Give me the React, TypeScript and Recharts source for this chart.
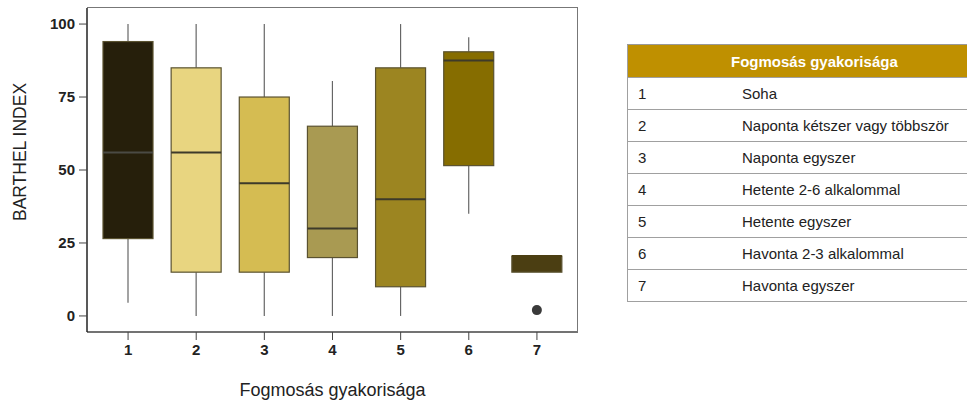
import { ComposedChart, Bar, XAxis, YAxis, Label } from 'recharts'

const categories = ['1', '2', '3', '4', '5', '6', '7']
const whiskerLow = [4.5, 0, 0, 0, 0, 35, 15]
const q1 = [26.5, 15, 15, 20, 10, 51.5, 15]
const median = [56, 56, 45.5, 30, 40, 87.5, 20.5]
const q3 = [94, 85, 75, 65, 85, 90.5, 20.5]
const whiskerHigh = [100, 100, 100, 80.5, 100, 95.5, 20.5]
const outliers: number[][] = [[], [], [], [], [], [], [2]]
const yTicks = [0, 25, 50, 75, 100]

const boxColors = ['#261f0b', '#e8d580', '#d5bc52', '#a99a52', '#9c8521', '#866d00', '#4b3e12']
const medianColors = ['#4a4a44', '#3d3a2a', '#3d3a2a', '#3d3a2a', '#3d3a2a', '#3d3a2a', '#4b3e12']

const tableTitle = 'Fogmosás gyakorisága'
const legendLabels = [
  'Soha',
  'Naponta kétszer vagy többször',
  'Naponta egyszer',
  'Hetente 2-6 alkalommal',
  'Hetente egyszer',
  'Havonta 2-3 alkalommal',
  'Havonta egyszer',
]

const data = categories.map((cat, i) => {
  const lo = Math.min(whiskerLow[i], ...outliers[i])
  const hi = Math.max(whiskerHigh[i], ...outliers[i])
  return {
    cat,
    range: [lo, hi],
    lo, hi,
    wl: whiskerLow[i], q1: q1[i], med: median[i], q3: q3[i], wh: whiskerHigh[i],
    out: outliers[i],
    color: boxColors[i],
    medColor: medianColors[i],
  }
})

// draws one box from the range bar's pixel extent
const BoxShape = (props: any) => {
  const { x, y, width, height, payload } = props
  const top = Math.min(y, y + height)
  const h = Math.abs(height)
  const k = h / (payload.hi - payload.lo)
  const py = (v: number) => top + (payload.hi - v) * k
  const cx = x + width / 2
  return (
    <g>
      <line x1={cx} x2={cx} y1={py(payload.wh)} y2={py(payload.q3)} stroke="#666" strokeWidth={1.2} />
      <line x1={cx} x2={cx} y1={py(payload.q1)} y2={py(payload.wl)} stroke="#666" strokeWidth={1.2} />
      <rect x={x} y={py(payload.q3)} width={width} height={py(payload.q1) - py(payload.q3)}
        fill={payload.color} stroke="#5a5230" strokeWidth={1.2} />
      <line x1={x} x2={x + width} y1={py(payload.med)} y2={py(payload.med)} stroke={payload.medColor} strokeWidth={2} />
      {payload.out.map((o: number, j: number) => (
        <circle key={j} cx={cx} cy={py(o)} r={5} fill="#3a3a3a" />
      ))}
    </g>
  )
}

const cell: any = {
  borderBottom: '1px solid #a0a0a0',
  height: 31,
  padding: '0 10px',
  fontSize: 15,
  color: '#222',
  verticalAlign: 'middle',
}

export default function App() {
  return (
    <div style={{ position: 'absolute', left: 0, top: 0, width: 967, height: 405, background: '#fff', fontFamily: '"Liberation Sans", Arial, sans-serif' }}>
      <ComposedChart width={600} height={405} data={data} margin={{ top: 8, right: 22, bottom: 0, left: 0 }}>
        <XAxis dataKey="cat" type="category" padding={{ left: 7, right: 7 }} height={73}
          axisLine={{ stroke: '#444', strokeWidth: 1.5 }} tickLine={{ stroke: '#444' }} tickSize={8} tickMargin={4}
          tick={{ fontSize: 15, fontWeight: 'bold', fill: '#222', fontFamily: 'Liberation Sans' }}>
          <Label value="Fogmosás gyakorisága" position="insideBottom" offset={9}
            fontSize={18} fill="#222" fontFamily="Liberation Sans" />
        </XAxis>
        <YAxis domain={[-5.5, 105.5]} ticks={yTicks} width={87} allowDataOverflow
          axisLine={{ stroke: '#222', strokeWidth: 1.5 }} tickLine={{ stroke: '#444' }} tickSize={8} tickMargin={4}
          tick={{ fontSize: 15, fontWeight: 'bold', fill: '#222', fontFamily: 'Liberation Sans' }}>
          <Label value="BARTHEL INDEX" angle={-90} position="insideLeft" offset={20} dy={-18}
            fontSize={17.5} fill="#222" fontFamily="Liberation Sans" textAnchor="middle" />
        </YAxis>
        <Bar dataKey="range" barSize={50} shape={BoxShape} isAnimationActive={false} />
      </ComposedChart>
      {/* frame top / right edges */}
      <div style={{ position: 'absolute', left: 87, top: 7, width: 490, height: 324, borderTop: '1.5px solid #777', borderRight: '1.5px solid #777', pointerEvents: 'none' }} />
      <table style={{ position: 'absolute', left: 627, top: 44, width: 340, borderCollapse: 'collapse', borderLeft: '1px solid #a0a0a0', borderTop: '1px solid #999' }}>
        <thead>
          <tr>
            <th colSpan={2} style={{ background: '#bf9000', color: '#fff', fontSize: 15, fontWeight: 'bold', textAlign: 'left', padding: '0 0 0 103px', height: 32, borderBottom: '1px solid #a0a0a0' }}>
              {tableTitle}
            </th>
          </tr>
        </thead>
        <tbody>
          {categories.map((c, i) => (
            <tr key={c}>
              <td style={{ ...cell, width: 84 }}>{c}</td>
              <td style={cell}>{legendLabels[i]}</td>
            </tr>
          ))}
        </tbody>
      </table>
    </div>
  )
}
